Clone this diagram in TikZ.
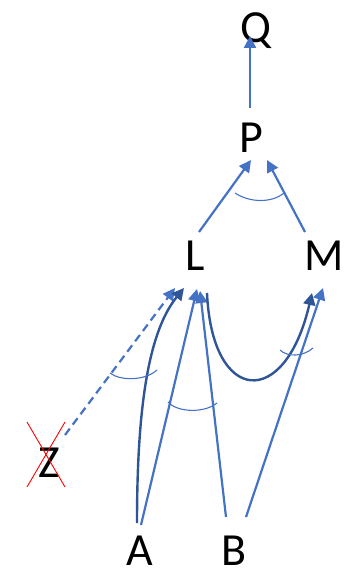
\documentclass[tikz,border=0pt]{standalone}
\usepackage{fontspec}
\setmainfont{Carlito}
\usetikzlibrary{arrows.meta}

\definecolor{linkblue}{HTML}{4472C4}
\definecolor{darkblue}{HTML}{2F5597}

\begin{document}
\begin{tikzpicture}[x=1pt, y=-1pt,
    var/.style={font=\fontsize{46}{46}\selectfont, inner sep=0pt, anchor=base},
    link/.style={linkblue, line width=2.2pt, -{Triangle[length=12pt, width=12pt]}},
    darklink/.style={darkblue, line width=2.4pt, -{Triangle[length=12pt, width=12pt]}},
    anglemark/.style={linkblue, line width=1.1pt}]
    \useasboundingbox (0,0) rectangle (355,569);

    % Variables
    \node[var] (Q) at (256,43) {Q};
    \node[var] (P) at (251,153) {P};
    \node[var] (L) at (195,270) {L};
    \node[var] (M) at (324,270) {M};
    \node[var] (Z) at (49,477) {Z};
    \node[var] (A) at (140,565) {A};
    \node[var] (B) at (234,565) {B};

    % Z is crossed out
    \draw[red, line width=0.9pt] ([shift={(-22,-55)}]Z.base) -- ([shift={(16,10)}]Z.base);
    \draw[red, line width=0.9pt] ([shift={(16,-55)}]Z.base) -- ([shift={(-22,10)}]Z.base);

    % Upper part
    \draw[link] ([shift={(-1,-45)}]P.base) -- ([shift={(-6,-7)}]Q.base);
    \draw[link] ([shift={(4,-38)}]L.base) -- ([shift={(0,7)}]P.base);
    \draw[link] ([shift={(-19,-38)}]M.base) -- ([shift={(16,7)}]P.base);
    \draw[anglemark] (235,193) .. controls (250,203) and (272,203) .. (284,193);

    % Lower part
    \draw[link, dash pattern=on 8pt off 5pt] ([shift={(16,-42)}]Z.base) -- ([shift={(-20,18)}]L.base);
    \draw[darklink] ([shift={(-3,-42)}]A.base) .. controls +(0,-123) and +(-34,42) .. ([shift={(-11,18)}]L.base);
    \draw[link] ([shift={(1,-40)}]A.base) -- ([shift={(2,19)}]L.base);
    \draw[link] ([shift={(-8,-48)}]B.base) -- ([shift={(5,21)}]L.base);
    \draw[darklink] ([shift={(12,23)}]L.base) .. controls +(5,112) and +(-27,117) .. ([shift={(-12,23)}]M.base);
    \draw[link] ([shift={(12,-48)}]B.base) -- ([shift={(-1,18)}]M.base);

    % Angle marks
    \draw[anglemark] (110,373) .. controls (120,381) and (145,381) .. (157,370);
    \draw[anglemark] (168,402) .. controls (178,413) and (205,413) .. (217,403);
    \draw[anglemark] (280,350) .. controls (287,357) and (303,357) .. (313,348);
\end{tikzpicture}
\end{document}
